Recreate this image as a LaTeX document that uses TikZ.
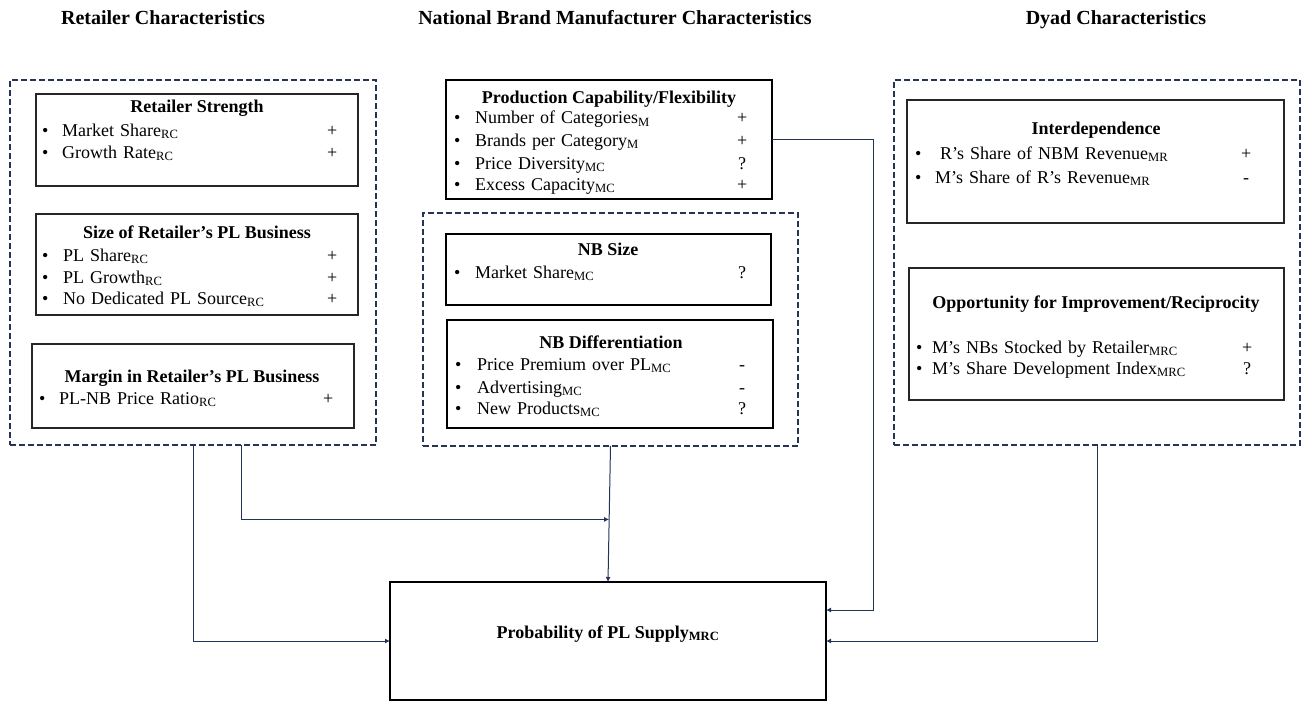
\documentclass[tikz,border=0pt]{standalone}
\usepackage{fontspec}
\setmainfont{Liberation Serif}
\usetikzlibrary{arrows.meta}

\definecolor{navy}{RGB}{37,52,86}
\newcommand{\bodyfont}{\fontsize{18}{21}\selectfont}
\newcommand{\headfont}{\fontsize{18}{21}\selectfont\bfseries}
\newcommand{\titlefont}{\fontsize{20}{24}\selectfont\bfseries}
% bullet line: gap, text, sign
\newcommand{\li}[3]{\noindent\makebox[#1][l]{\textbullet}#2\hfill\makebox[12pt]{#3}}

\tikzset{
  panel/.style={inner sep=0pt, outer sep=0pt},
  dashbox/.style={panel, draw=navy, line width=2.2pt, dash pattern=on 6pt off 3pt},
  thinbox/.style={panel, draw=black!85, line width=1.3pt},
  thickbox/.style={panel, draw=black, line width=2.2pt},
  title/.style={anchor=base, inner sep=0pt, font=\titlefont},
  head/.style={anchor=base, inner sep=0pt, font=\headfont},
  entry/.style={anchor=base west, inner sep=0pt, font=\bodyfont},
  link/.style={draw=navy, line width=1pt, -{Latex[length=5pt,width=5pt]}}
}

\begin{document}
\begin{tikzpicture}[x=1pt,y=-1pt]
  \useasboundingbox (0,0) rectangle (1307,701);

  % column titles
  \node[title] (tretail) at (163,25) {Retailer Characteristics};
  \node[title] (tmfr) at (615,25) {National Brand Manufacturer Characteristics};
  \node[title] (tdyad) at (1116,25) {Dyad Characteristics};

  % retailer column
  \node[dashbox, minimum width=366pt, minimum height=365pt] (retail) at (193,262.5) {};
  \node[thinbox, minimum width=322pt, minimum height=92pt] (strength) at (197,140) {};
  \node[head] (hstrength) at (197,113) {Retailer Strength};
  \node[entry, text width=296pt] (s1) at (42,136) {\li{20pt}{Market Share\textsubscript{RC}}{+}};
  \node[entry, text width=296pt] (s2) at (42,158) {\li{20pt}{Growth Rate\textsubscript{RC}}{+}};

  \node[thinbox, minimum width=322pt, minimum height=101pt] (plsize) at (197,264.5) {};
  \node[head] (hplsize) at (197,238) {Size of Retailer’s PL Business};
  \node[entry, text width=296pt] (z1) at (42,261) {\li{21pt}{PL Share\textsubscript{RC}}{+}};
  \node[entry, text width=296pt] (z2) at (42,283) {\li{21pt}{PL Growth\textsubscript{RC}}{+}};
  \node[entry, text width=296pt] (z3) at (42,304) {\li{21pt}{No Dedicated PL Source\textsubscript{RC}}{+}};

  \node[thinbox, minimum width=322pt, minimum height=84pt] (margin) at (193,386) {};
  \node[head] (hmargin) at (192,382) {Margin in Retailer’s PL Business};
  \node[entry, text width=295pt] (m1) at (39,404) {\li{20pt}{PL-NB Price Ratio\textsubscript{RC}}{+}};

  % manufacturer column
  \node[thickbox, minimum width=326pt, minimum height=119pt] (prod) at (609,139.5) {};
  \node[head] (hprod) at (609,103) {Production Capability/Flexibility};
  \node[entry, text width=294pt] (p1) at (454,124) {\li{21pt}{Number of Categories\textsubscript{M}}{+}};
  \node[entry, text width=294pt] (p2) at (454,146) {\li{21pt}{Brands per Category\textsubscript{M}}{+}};
  \node[entry, text width=294pt] (p3) at (454,169) {\li{21pt}{Price Diversity\textsubscript{MC}}{?}};
  \node[entry, text width=294pt] (p4) at (454,190) {\li{21pt}{Excess Capacity\textsubscript{MC}}{+}};

  \node[dashbox, minimum width=375pt, minimum height=233pt] (mfr) at (610.5,329.5) {};
  \node[thickbox, minimum width=325pt, minimum height=71pt] (nbsize) at (608.5,269.5) {};
  \node[head] (hnbsize) at (608,255) {NB Size};
  \node[entry, text width=294pt] (n1) at (454,278) {\li{21pt}{Market Share\textsubscript{MC}}{?}};

  \node[thickbox, minimum width=326pt, minimum height=108pt] (nbdiff) at (610,374) {};
  \node[head] (hnbdiff) at (611,348) {NB Differentiation};
  \node[entry, text width=293pt] (d1) at (455,370) {\li{22pt}{Price Premium over PL\textsubscript{MC}}{-}};
  \node[entry, text width=293pt] (d2) at (455,393) {\li{22pt}{Advertising\textsubscript{MC}}{-}};
  \node[entry, text width=293pt] (d3) at (455,414) {\li{22pt}{New Products\textsubscript{MC}}{?}};

  % dyad column
  \node[dashbox, minimum width=406pt, minimum height=365pt] (dyad) at (1097,262.5) {};
  \node[thinbox, minimum width=377pt, minimum height=123pt] (inter) at (1095.5,161.5) {};
  \node[head] (hinter) at (1096,134) {Interdependence};
  \node[entry, text width=337pt] (i1) at (915,159) {\li{25pt}{R’s Share of NBM Revenue\textsubscript{MR}}{+}};
  \node[entry, text width=337pt] (i2) at (915,183) {\li{20pt}{M’s Share of R’s Revenue\textsubscript{MR}}{-}};

  \node[thinbox, minimum width=375pt, minimum height=132pt] (opp) at (1096.5,334) {};
  \node[head] (hopp) at (1096,308) {Opportunity for Improvement/Reciprocity};
  \node[entry, text width=337pt] (o1) at (916,353) {\li{16pt}{M’s NBs Stocked by Retailer\textsubscript{MRC}}{+}};
  \node[entry, text width=337pt] (o2) at (916,374) {\li{16pt}{M’s Share Development Index\textsubscript{MRC}}{?}};

  % outcome
  \node[thickbox, minimum width=436pt, minimum height=118pt] (supply) at (608,641) {};
  \node[head] (hsupply) at (608,638) {Probability of PL Supply\textsubscript{MRC}};

  % connectors
  \path (mfr.south) -- (supply.north) coordinate[pos=.54] (meet);
  \draw[link] (retail.south) |- (supply.west);
  \draw[link] ([xshift=48pt]retail.south) |- (meet);
  \draw[link] (mfr.south) -- (supply.north);
  \draw[link] (prod.east) -- ++(101,0) |- ([yshift=31pt]supply.east);
  \draw[link] (dyad.south) |- (supply.east);
\end{tikzpicture}
\end{document}
